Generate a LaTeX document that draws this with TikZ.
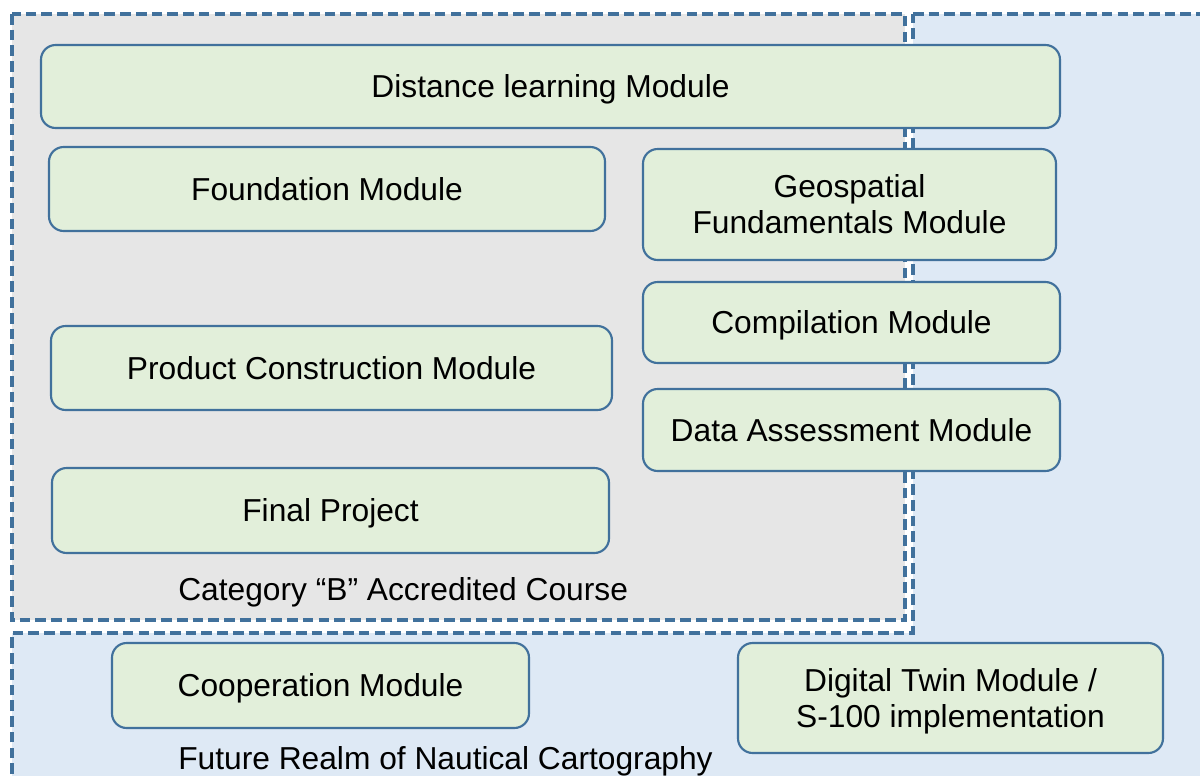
\documentclass[tikz,border=0pt]{standalone}
\usepackage{fontspec}
\setmainfont{Liberation Sans}
\definecolor{edge}{HTML}{41719C}
\definecolor{boxfill}{HTML}{E2EFDA}
\definecolor{grayfill}{HTML}{E6E6E6}
\definecolor{bluefill}{HTML}{DEE9F5}
\newcommand{\mystrut}{\rule[-0.212em]{0pt}{1.117em}}
\tikzset{
  modbox/.style={draw=edge, fill=boxfill, line width=1.6pt, rounded corners=11pt,
    inner sep=0pt, align=center, font=\fontsize{23.8}{27}\selectfont, text=black},
  regionline/.style={draw=edge, line width=2.3pt, dash pattern=on 8pt off 3.8pt},
  caption/.style={anchor=base west, inner sep=0pt, font=\fontsize{23.8}{27}\selectfont, text=black}
}
\begin{document}
\begin{tikzpicture}[x=0.75pt, y=-0.75pt]
\clip (0,0) rectangle (1200,775);
\fill[white] (0,0) rectangle (1200,775);
% blue L-shaped region
\draw[regionline, fill=bluefill] (913,14) -- (1215,14) -- (1215,790) -- (12,790) -- (12,633) -- (913,633) -- cycle;
% gray accredited course region
\draw[regionline, fill=grayfill] (12,14) rectangle (905,620);
% modules
\node[modbox, minimum width={1019*0.75pt}, minimum height={83*0.75pt}] (dist) at (550.5,86.5) {\mystrut Distance learning Module};
\node[modbox, minimum width={556*0.75pt}, minimum height={84*0.75pt}] (found) at (327,189) {\mystrut Foundation Module};
\node[modbox, minimum width={413*0.75pt}, minimum height={111*0.75pt}] (geo) at (849.5,204.5) {\mystrut Geospatial\\\mystrut Fundamentals Module};
\node[modbox, minimum width={417*0.75pt}, minimum height={81*0.75pt}] (comp) at (851.5,322.5) {\mystrut Compilation Module};
\node[modbox, minimum width={561*0.75pt}, minimum height={84*0.75pt}] (prod) at (331.5,368) {\mystrut Product Construction Module};
\node[modbox, minimum width={417*0.75pt}, minimum height={82*0.75pt}] (data) at (851.5,430) {\mystrut Data Assessment Module};
\node[modbox, minimum width={557*0.75pt}, minimum height={85*0.75pt}] (final) at (330.5,510.5) {\mystrut Final Project};
\node[modbox, minimum width={417*0.75pt}, minimum height={85*0.75pt}] (coop) at (320.5,685.5) {\mystrut Cooperation Module};
\node[modbox, minimum width={425*0.75pt}, minimum height={110*0.75pt}] (twin) at (950.5,698) {\mystrut Digital Twin Module /\\\mystrut S-100 implementation};
% captions
\node[caption] (catb) at (178,600) {Category “B” Accredited Course};
\node[caption] (future) at (178,769) {Future Realm of Nautical Cartography};
\end{tikzpicture}
\end{document}
